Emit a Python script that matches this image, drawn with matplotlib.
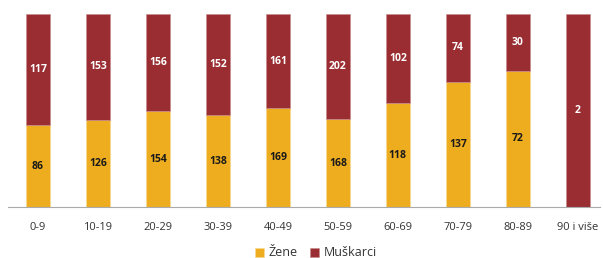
import numpy as np
import matplotlib
matplotlib.use("Agg")
import matplotlib.pyplot as plt

groups = ["0-9", "10-19", "20-29", "30-39", "40-49", "50-59", "60-69", "70-79", "80-89", "90 i više"]
zene = [86, 126, 154, 138, 169, 168, 118, 137, 72, 0]
muskarci = [117, 153, 156, 152, 161, 202, 102, 74, 30, 2]

c_z = "#eead1f"
c_m = "#992d31"

plt.rcParams['font.family'] = ['Open Sans', 'DejaVu Sans']

z = np.array(zene, float)
m = np.array(muskarci, float)
tot = z + m
pz = z / tot * 100
pm = m / tot * 100
x = np.arange(len(groups))

fig = plt.figure(figsize=(6.03, 2.58), dpi=100)
ax = fig.add_axes([8/603, 1 - 207/258, 592/603, 193/258])
ax.bar(x, pz, width=0.4, color=c_z, edgecolor="#f6d98f", linewidth=0.4, label="Žene")
ax.bar(x, pm, width=0.4, bottom=pz, color=c_m, edgecolor="#c98a8c", linewidth=0.4, label="Muškarci")

for i in range(len(groups)):
    if z[i] > 0:
        ax.text(x[i], pz[i] / 2, str(zene[i]), ha="center", va="center",
                fontsize=7.5, fontweight="bold", color="#1a1a1a")
    if m[i] > 0:
        ax.text(x[i], pz[i] + pm[i] / 2, str(muskarci[i]), ha="center", va="center",
                fontsize=7.5, fontweight="bold", color="white")

ax.set_xlim(-0.5, 9.37)
ax.set_ylim(0, 100)
ax.set_yticks([])
ax.set_xticks(x)
ax.set_xticklabels(groups, fontsize=8, color="#333333")
ax.tick_params(axis="x", length=0, pad=11)
for s in ["top", "right", "left"]:
    ax.spines[s].set_visible(False)
ax.spines["bottom"].set_color("#aaaaaa")
ax.spines["bottom"].set_linewidth(0.8)

leg = fig.legend(loc="center", bbox_to_anchor=(316/603, 1 - 253/258), ncol=2, frameon=False,
                 fontsize=9, handlelength=0.7, handleheight=0.7, handletextpad=0.4,
                 columnspacing=1.0, labelcolor="#333333")

fig.savefig("out.png", dpi=100)
